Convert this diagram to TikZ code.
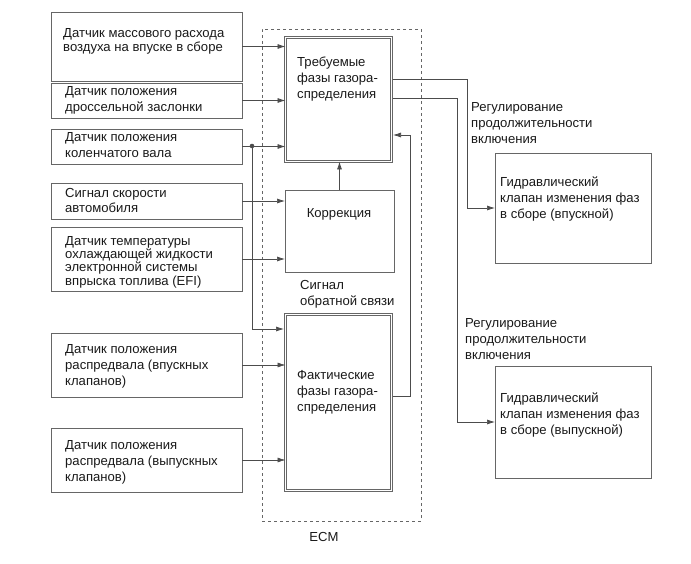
\documentclass[tikz,border=0pt]{standalone}
\usepackage{fontspec}
\setmainfont{Liberation Sans}
\usetikzlibrary{arrows.meta,calc}
\definecolor{boxc}{gray}{0.4}
\definecolor{linec}{gray}{0.3}
\definecolor{txtc}{gray}{0.1}
\begin{document}
\begin{tikzpicture}[x=1pt,y=-1pt,
 box/.style={draw=boxc, line width=0.8pt, inner sep=0, outer sep=0, anchor=north west},
 dbox/.style={box, double, double distance=1.6pt, line width=0.6pt},
 txt/.style={anchor=north west, inner sep=0, align=left, font=\fontsize{13.1}{16}\selectfont, text=txtc},
 arr/.style={draw=linec, line width=0.7pt, -{Latex[length=8pt,width=5pt]}},
 ln/.style={draw=linec, line width=0.7pt}]
\useasboundingbox (0,0) rectangle (691,564);
% ECM dashed frame
\node[box, dashed, dash pattern=on 3pt off 3pt, minimum width=159, minimum height=492] (ecm) at (262,29) {};
\node[txt, anchor=center] (ecml) at (324,537) {ECM};
% input boxes
\node[box, minimum width=191, minimum height=69] (b1) at (51,12) {};
\node[box, minimum width=191, minimum height=35] (b2) at (51,83) {};
\node[box, minimum width=191, minimum height=35] (b3) at (51,129) {};
\node[box, minimum width=191, minimum height=36] (b4) at (51,183) {};
\node[box, minimum width=191, minimum height=64] (b5) at (51,227) {};
\node[box, minimum width=191, minimum height=64] (b6) at (51,333) {};
\node[box, minimum width=191, minimum height=64] (b7) at (51,428) {};
\node[txt, font=\fontsize{13.1}{14.5}\selectfont] (t1) at (63,28) {Датчик массового расхода\\воздуха на впуске в сборе};
\node[txt] (t2) at (65,86) {Датчик положения\\дроссельной заслонки};
\node[txt] (t3) at (65,132) {Датчик положения\\коленчатого вала};
\node[txt, font=\fontsize{13.1}{15}\selectfont] (t4) at (65,188) {Сигнал скорости\\автомобиля};
\node[txt, font=\fontsize{13.1}{13.3}\selectfont] (t5) at (65,236) {Датчик температуры\\охлаждающей жидкости\\электронной системы\\впрыска топлива (EFI)};
\node[txt] (t6) at (65,344) {Датчик положения\\распредвала (впускных\\клапанов)};
\node[txt] (t7) at (65,440) {Датчик положения\\распредвала (выпускных\\клапанов)};
% ECM inner boxes
\node[dbox, minimum width=106, minimum height=124] (req) at (285.5,37.5) {};
\node[txt] (treq) at (297,57) {Требуемые\\фазы газора-\\спределения};
\node[box, minimum width=109, minimum height=82] (corr) at (285,190) {};
\node[txt, anchor=center] (tcorr) at (339,214) {Коррекция};
\node[txt] (tfb) at (300,280) {Сигнал\\обратной связи};
\node[dbox, minimum width=106, minimum height=176] (act) at (285.5,314.5) {};
\node[txt] (tact) at (297,370) {Фактические\\фазы газора-\\спределения};
% valves
\node[box, minimum width=156, minimum height=110] (v1) at (495,153) {};
\node[txt] (tv1) at (500,177) {Гидравлический\\клапан изменения фаз\\в сборе (впускной)};
\node[box, minimum width=156, minimum height=112] (v2) at (495,366) {};
\node[txt] (tv2) at (500,393) {Гидравлический\\клапан изменения фаз\\в сборе (выпускной)};
\node[txt] (r1) at (471,102) {Регулирование\\продолжительности\\включения};
\node[txt] (r2) at (465,318) {Регулирование\\продолжительности\\включения};
% inputs
\draw[arr] (b1.east) -- (b1.east -| req.west);
\draw[arr] (b2.east) -- (b2.east -| req.west);
\draw[arr] (b3.east) -- (b3.east -| req.west);
\coordinate (dot) at (252,146);
\fill[linec] (dot) circle (2.3pt);
\coordinate (actin) at (284,329);
\draw[arr] (dot) |- (actin);
\draw[arr] (b4.east) -- (b4.east -| corr.west);
\draw[arr] (b5.east) -- (b5.east -| corr.west);
\draw[arr] (b6.east) -- (b6.east -| act.west);
\draw[arr] (b7.east) -- (b7.east -| act.west);
\draw[arr] (corr.north) -- (corr.north |- req.south);
% feedback
\coordinate (fbA) at (393,396);
\coordinate (fbB) at (410,135);
\coordinate (fbC) at (393,135);
\draw[arr] (fbA) -| (fbB) -- (fbC);
% outputs
\coordinate (o1) at (393,79);
\coordinate (o1b) at (467,208);
\draw[arr] (o1) -| (o1b) -- (v1.west);
\coordinate (o2) at (393,98);
\coordinate (o2b) at (457,422);
\draw[arr] (o2) -| (o2b) -- (v2.west);
\end{tikzpicture}
\end{document}
